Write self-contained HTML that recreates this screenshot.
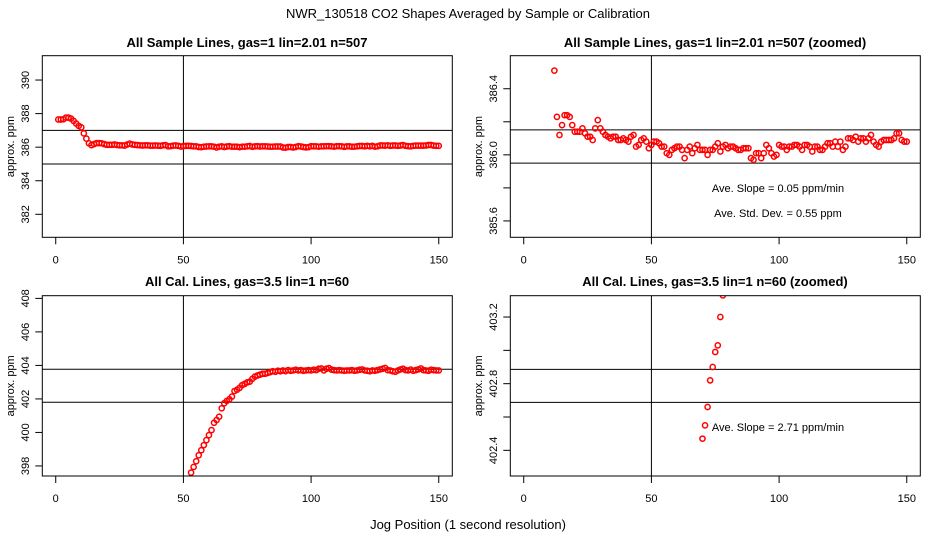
<!DOCTYPE html>
<html><head><meta charset="utf-8"><style>
html,body{margin:0;padding:0;background:#fff;overflow:hidden;width:936px;height:540px;position:relative;}
svg{display:block;position:absolute;left:0;top:0;overflow:hidden;font-family:"Liberation Sans",sans-serif;}
</style></head><body>
<svg id="c" width="936" height="540" viewBox="0 0 936 540">
<text x="468" y="18" text-anchor="middle" font-size="13">NWR_130518  CO2 Shapes Averaged by Sample or Calibration</text>
<text x="468" y="529" text-anchor="middle" font-size="13">Jog Position (1 second resolution)</text>
</svg>
<script>
const sampleX = [1,2,3,4,5,6,7,8,9,10,11,12,13,14,15,16,17,18,19,20,21,22,23,24,25,26,27,28,29,30,31,32,33,34,35,36,37,38,39,40,41,42,43,44,45,46,47,48,49,50,51,52,53,54,55,56,57,58,59,60,61,62,63,64,65,66,67,68,69,70,71,72,73,74,75,76,77,78,79,80,81,82,83,84,85,86,87,88,89,90,91,92,93,94,95,96,97,98,99,100,101,102,103,104,105,106,107,108,109,110,111,112,113,114,115,116,117,118,119,120,121,122,123,124,125,126,127,128,129,130,131,132,133,134,135,136,137,138,139,140,141,142,143,144,145,146,147,148,149,150];
const sampleY = [387.65,387.65,387.66,387.76,387.76,387.7,387.57,387.41,387.27,387.18,386.82,386.51,386.23,386.12,386.18,386.24,386.24,386.23,386.18,386.14,386.14,386.14,386.16,386.13,386.11,386.11,386.09,386.16,386.21,386.16,386.14,386.12,386.11,386.10,386.11,386.11,386.09,386.09,386.10,386.09,386.08,386.11,386.12,386.05,386.06,386.09,386.10,386.08,386.04,386.06,386.08,386.08,386.07,386.05,386.05,386.01,386.00,386.03,386.04,386.05,386.05,386.03,385.98,386.03,386.05,386.01,386.04,386.06,386.03,386.03,386.03,386.00,386.03,386.03,386.05,386.07,386.02,386.05,386.06,386.04,386.05,386.05,386.04,386.03,386.03,386.04,386.04,386.04,385.98,385.97,386.01,386.01,385.98,386.01,386.06,386.04,386.01,385.99,386.00,386.06,386.05,386.05,386.03,386.05,386.05,386.06,386.06,386.05,386.03,386.06,386.06,386.05,386.02,386.05,386.05,386.03,386.03,386.05,386.07,386.07,386.05,386.08,386.05,386.08,386.03,386.05,386.10,386.10,386.09,386.11,386.08,386.10,386.10,386.08,386.10,386.12,386.08,386.06,386.05,386.08,386.09,386.09,386.09,386.09,386.10,386.13,386.13,386.09,386.08,386.08];
const calX = [53,54,55,56,57,58,59,60,61,62,63,64,65,66,67,68,69,70,71,72,73,74,75,76,77,78,79,80,81,82,83,84,85,86,87,88,89,90,91,92,93,94,95,96,97,98,99,100,101,102,103,104,105,106,107,108,109,110,111,112,113,114,115,116,117,118,119,120,121,122,123,124,125,126,127,128,129,130,131,132,133,134,135,136,137,138,139,140,141,142,143,144,145,146,147,148,149,150];
const calY = [397.6,397.94,398.28,398.64,398.94,399.24,399.54,399.84,400.14,400.58,400.74,400.94,401.44,401.74,401.88,401.98,402.14,402.47,402.55,402.66,402.82,402.9,402.99,403.03,403.2,403.33,403.4,403.45,403.5,403.5,403.55,403.6,403.65,403.62,403.68,403.65,403.7,403.66,403.72,403.68,403.7,403.74,403.7,403.72,403.68,403.7,403.72,403.7,403.74,403.72,403.8,403.82,403.7,403.8,403.84,403.75,403.72,403.7,403.72,403.7,403.68,403.7,403.7,403.72,403.68,403.7,403.74,403.76,403.7,403.68,403.65,403.7,403.68,403.72,403.76,403.8,403.85,403.72,403.7,403.65,403.62,403.7,403.76,403.8,403.72,403.7,403.75,403.68,403.72,403.76,403.82,403.72,403.7,403.68,403.74,403.72,403.7,403.7];
const xTicks = [0,50,100,150];
const panels = [
 {ox:0, top:55.7, bot:237.3, ymin:380.63, ymax:391.45, ticks:[382,384,386,388,390], labels:["382","384","386","388","390"], hl:[385,387], title:"All Sample Lines, gas=1 lin=2.01 n=507", ty:47, xs:sampleX, ys:sampleY, name:"sample-panel"},
 {ox:468, top:55.7, bot:237.3, ymin:385.501, ymax:386.6, ticks:[385.6,385.8,386.0,386.2,386.4], labels:["385.6","","386.0","","386.4"], hl:[385.95,386.151], title:"All Sample Lines, gas=1 lin=2.01 n=507 (zoomed)", ty:47, xs:sampleX, ys:sampleY, name:"sample-zoom-panel", notes:["Ave. Slope =  0.05  ppm/min","Ave. Std. Dev. =  0.55  ppm"]},
 {ox:0, top:295.7, bot:476, ymin:397.4, ymax:408.16, ticks:[398,400,402,404,406,408], labels:["398","400","402","404","406","408"], hl:[401.8,403.77], title:"All Cal. Lines, gas=3.5 lin=1 n=60", ty:286, xs:calX, ys:calY, name:"cal-panel"},
 {ox:468, top:295.7, bot:476, ymin:402.246, ymax:403.328, ticks:[402.4,402.6,402.8,403.0,403.2], labels:["402.4","","402.8","","403.2"], hl:[402.688,402.886], title:"All Cal. Lines, gas=3.5 lin=1 n=60 (zoomed)", ty:286, xs:calX, ys:calY, name:"cal-zoom-panel", notes:["Ave. Slope =  2.71  ppm/min"]}
];
const svg = document.getElementById('c');
const NS = 'http://www.w3.org/2000/svg';
function mk(tag, attrs, parent){const e=document.createElementNS(NS,tag);for(const k in attrs)e.setAttribute(k,attrs[k]);(parent||svg).appendChild(e);return e;}
const XMIN=-5.26, XMAX=155.3;
panels.forEach((p,i)=>{
 const L=p.ox+42.3, R=p.ox+452.3;
 const sx=v=>L+(v-XMIN)/(XMAX-XMIN)*(R-L);
 const sy=v=>p.bot-(v-p.ymin)/(p.ymax-p.ymin)*(p.bot-p.top);
 const g=mk('g',{});
 
 
 const t=mk('text',{x:p.ox+247,y:p.ty,'text-anchor':'middle','font-size':'13','font-weight':'bold'},g);
 t.textContent=p.title;
 
 
 const cp=mk('clipPath',{id:'cp'+i},g);
 mk('rect',{x:L,y:p.top,width:R-L,height:p.bot-p.top},cp);
 xTicks.forEach(v=>{
  const tk=mk('line',{x1:sx(v),x2:sx(v),y1:p.bot,y2:p.bot+7,stroke:'#000'},g);
  
  
  const tl=mk('text',{x:sx(v),y:p.bot+26,'text-anchor':'middle','font-size':'11'},g);
  tl.textContent=String(v);
  
  
 });
 p.ticks.forEach((v,j)=>{
  const tk=mk('line',{x1:L-7,x2:L,y1:sy(v),y2:sy(v),stroke:'#000'},g);
  
  
  if(p.labels[j]){
   const yl=mk('text',{x:0,y:0,'text-anchor':'middle','font-size':'11',transform:`translate(${p.ox+29},${sy(v)}) rotate(-90)`},g);
   yl.textContent=p.labels[j];
   
   
  }
 });
 const yt=mk('text',{x:0,y:0,'text-anchor':'middle','font-size':'11',transform:`translate(${p.ox+14},${(p.top+p.bot)/2}) rotate(-90)`},g);
 yt.textContent='approx. ppm';
 
 
 const vl=mk('line',{x1:sx(50),x2:sx(50),y1:p.top,y2:p.bot,stroke:'#000'},g);
 
 
 p.hl.forEach(v=>{
  const hl=mk('line',{x1:L,x2:R,y1:sy(v),y2:sy(v),stroke:'#000'},g);
  
  
 });
 const pg=mk('g',{'clip-path':`url(#cp${i})`},g);
 p.xs.forEach((x,k)=>{
  const c=mk('circle',{cx:sx(x),cy:sy(p.ys[k]),r:2.6,fill:'none',stroke:'#f00','stroke-width':1.5},pg);
  
  
 });
 (p.notes||[]).forEach((n,k)=>{
  const nt=mk('text',{x:p.ox+310,y:(i==1?192+k*25:431),'text-anchor':'middle','font-size':'11'},g);
  nt.textContent=n;
  
  
 });
 const box=mk('rect',{x:L,y:p.top,width:R-L,height:p.bot-p.top,fill:'none',stroke:'#000'},g);
 
 
});
</script>
</body></html>
